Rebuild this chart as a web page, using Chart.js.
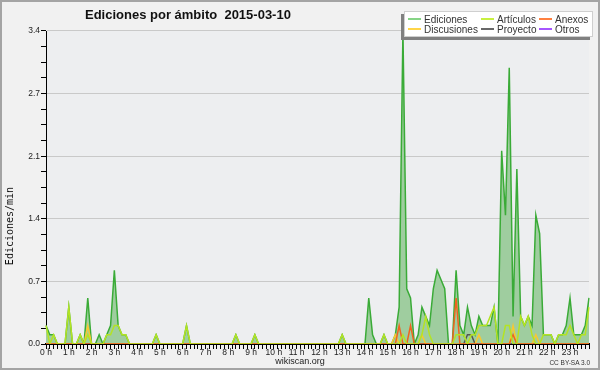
<!DOCTYPE html>
<html>
<head>
<meta charset="utf-8">
<script src="https://cdn.jsdelivr.net/npm/chart.js@4"></script>
<style>
    html, body { margin: 0; padding: 0; background: #f1f1f1; }
    #wrap { position: relative; width: 600px; height: 370px; background: #f1f1f1; overflow: hidden;
            font-family: "Liberation Sans", Arial, sans-serif; color: #111; }
    #chart { position: absolute; left: 0; top: 0; }
    .title { position: absolute; left: 85px; top: 7px; font-size: 13px; line-height: 15px; font-weight: bold; white-space: pre; }
    .ytitle { position: absolute; left: -35px; top: 220px; width: 90px; height: 12px; line-height: 12px; text-align: center;
              font-family: "DejaVu Sans Mono", monospace; font-size: 10px; transform: rotate(-90deg); }
    .legend { position: absolute; left: 404px; top: 11px; width: 189px; height: 26px; box-sizing: border-box;
              background: #fff; border: 1px solid #cfcfcf; box-shadow: -3px 3px 0 #808080; }
    .legend span { position: absolute; font-size: 10px; line-height: 10px; white-space: nowrap; color: #333; }
    .legend i { position: absolute; width: 13px; height: 2px; }
    .site { position: absolute; left: 250px; width: 100px; top: 357px; text-align: center; font-size: 9px; line-height: 9px; color: #222; }
    .lic { position: absolute; right: 10px; top: 359px; font-size: 6.5px; line-height: 7px; color: #333; }
    .frame { position: absolute; left: 0; top: 0; width: 600px; height: 370px; box-sizing: border-box; border: 2px solid #a4a4a4; pointer-events: none; }
</style>
</head>
<body>
<div id="wrap">
    <canvas id="chart" width="600" height="370"></canvas>
    <div class="title">Ediciones por ámbito  2015-03-10</div>
    <div class="ytitle">Ediciones/min</div>
    <div class="legend" id="legend"></div>
    <div class="site">wikiscan.org</div>
    <div class="lic">CC BY-SA 3.0</div>
    <div class="frame"></div>
</div>
<script>
// one value per 10 minutes, 00:00 .. 23:50 (edits per minute)
const hourLabels = ['0 h', '1 h', '2 h', '3 h', '4 h', '5 h', '6 h', '7 h', '8 h', '9 h', '10 h', '11 h',
    '12 h', '13 h', '14 h', '15 h', '16 h', '17 h', '18 h', '19 h', '20 h', '21 h', '22 h', '23 h'];
const yTickLabels = ['0.0', '0.7', '1.4', '2.1', '2.7', '3.4'];

const ediciones = [
    0.2, 0.1, 0.1, 0, 0, 0, 0.4, 0, 0, 0.1, 0, 0.5, 0, 0, 0.1, 0, 0.1, 0.2, 0.8, 0.2, 0.1, 0.1, 0, 0,
    0, 0, 0, 0, 0, 0.1, 0, 0, 0, 0, 0, 0, 0, 0.2, 0, 0, 0, 0, 0, 0, 0, 0, 0, 0,
    0, 0, 0.1, 0, 0, 0, 0, 0.1, 0, 0, 0, 0, 0, 0, 0, 0, 0, 0, 0, 0, 0, 0, 0, 0,
    0, 0, 0, 0, 0, 0, 0.1, 0, 0, 0, 0, 0, 0, 0.5, 0.1, 0, 0, 0.1, 0, 0, 0.1, 0.4, 3.4, 0.6,
    0.5, 0, 0.1, 0.4, 0.3, 0.2, 0.6, 0.8, 0.7, 0.6, 0, 0, 0.8, 0.2, 0.1, 0.4, 0.2, 0.1, 0.3, 0.2, 0.2, 0.2, 0.4, 0,
    2.1, 1.4, 3.0, 0.3, 1.9, 0.3, 0.2, 0.3, 0.2, 1.4, 1.2, 0.1, 0.1, 0.1, 0, 0.1, 0.1, 0.2, 0.5, 0.1, 0.1, 0.1, 0.2, 0.5
];
const articulos = [
    0.2, 0, 0.1, 0, 0, 0, 0.4, 0, 0, 0.1, 0, 0.1, 0, 0, 0, 0, 0.1, 0.1, 0.2, 0.2, 0.1, 0.1, 0, 0,
    0, 0, 0, 0, 0, 0.1, 0, 0, 0, 0, 0, 0, 0, 0.2, 0, 0, 0, 0, 0, 0, 0, 0, 0, 0,
    0, 0, 0.1, 0, 0, 0, 0, 0.1, 0, 0, 0, 0, 0, 0, 0, 0, 0, 0, 0, 0, 0, 0, 0, 0,
    0, 0, 0, 0, 0, 0, 0.1, 0, 0, 0, 0, 0, 0, 0, 0, 0, 0, 0.1, 0, 0, 0, 0, 0.1, 0,
    0, 0, 0, 0.1, 0.3, 0.1, 0, 0, 0, 0, 0, 0, 0.1, 0.1, 0.1, 0, 0.1, 0.1, 0.2, 0.2, 0.2, 0.3, 0.4, 0,
    0, 0.2, 0.2, 0, 0, 0.3, 0.2, 0.3, 0.1, 0, 0, 0.1, 0.1, 0.1, 0, 0.1, 0.1, 0.1, 0.2, 0.1, 0, 0.1, 0.1, 0.4
];
const anexos = [
    0, 0, 0, 0, 0, 0, 0, 0, 0, 0, 0, 0, 0, 0, 0, 0, 0, 0, 0, 0, 0, 0, 0, 0,
    0, 0, 0, 0, 0, 0, 0, 0, 0, 0, 0, 0, 0, 0, 0, 0, 0, 0, 0, 0, 0, 0, 0, 0,
    0, 0, 0, 0, 0, 0, 0, 0, 0, 0, 0, 0, 0, 0, 0, 0, 0, 0, 0, 0, 0, 0, 0, 0,
    0, 0, 0, 0, 0, 0, 0, 0, 0, 0, 0, 0, 0, 0, 0, 0, 0, 0, 0, 0, 0, 0.2, 0, 0,
    0.2, 0, 0, 0, 0, 0, 0, 0, 0, 0, 0, 0, 0.5, 0, 0, 0, 0, 0, 0, 0, 0, 0, 0, 0,
    0, 0, 0, 0.1, 0, 0, 0, 0, 0, 0, 0, 0, 0, 0, 0, 0, 0, 0, 0, 0, 0, 0, 0, 0
];
const discusiones = [
    0, 0, 0, 0, 0, 0, 0, 0, 0, 0, 0, 0.2, 0, 0, 0, 0, 0, 0, 0, 0, 0, 0, 0, 0,
    0, 0, 0, 0, 0, 0, 0, 0, 0, 0, 0, 0, 0, 0, 0, 0, 0, 0, 0, 0, 0, 0, 0, 0,
    0, 0, 0, 0, 0, 0, 0, 0, 0, 0, 0, 0, 0, 0, 0, 0, 0, 0, 0, 0, 0, 0, 0, 0,
    0, 0, 0, 0, 0, 0, 0, 0, 0, 0, 0, 0, 0, 0, 0, 0, 0, 0, 0, 0, 0.1, 0, 0, 0,
    0, 0, 0, 0.1, 0, 0, 0, 0, 0, 0, 0, 0, 0, 0, 0, 0, 0, 0, 0.1, 0, 0, 0, 0, 0,
    0, 0, 0, 0.2, 0, 0, 0, 0, 0, 0.1, 0, 0, 0, 0, 0, 0, 0, 0, 0, 0, 0, 0, 0, 0
];
const proyecto = [
    0, 0, 0, 0, 0, 0, 0, 0, 0, 0, 0, 0, 0, 0, 0, 0, 0, 0, 0, 0, 0, 0, 0, 0,
    0, 0, 0, 0, 0, 0, 0, 0, 0, 0, 0, 0, 0, 0, 0, 0, 0, 0, 0, 0, 0, 0, 0, 0,
    0, 0, 0, 0, 0, 0, 0, 0, 0, 0, 0, 0, 0, 0, 0, 0, 0, 0, 0, 0, 0, 0, 0, 0,
    0, 0, 0, 0, 0, 0, 0, 0, 0, 0, 0, 0, 0, 0, 0, 0, 0, 0, 0, 0, 0, 0, 0, 0,
    0, 0, 0, 0, 0, 0, 0, 0, 0, 0, 0, 0, 0, 0, 0, 0.1, 0.1, 0, 0, 0, 0, 0, 0, 0,
    0, 0, 0, 0, 0, 0, 0, 0, 0, 0, 0, 0, 0, 0, 0, 0, 0, 0, 0, 0, 0, 0, 0, 0
];
const otros = [
    0, 0, 0, 0, 0, 0, 0, 0, 0, 0, 0, 0, 0, 0, 0, 0, 0, 0, 0, 0, 0, 0, 0, 0,
    0, 0, 0, 0, 0, 0, 0, 0, 0, 0, 0, 0, 0, 0, 0, 0, 0, 0, 0, 0, 0, 0, 0, 0,
    0, 0, 0, 0, 0, 0, 0, 0, 0, 0, 0, 0, 0, 0, 0, 0, 0, 0, 0, 0, 0, 0, 0, 0,
    0, 0, 0, 0, 0, 0, 0, 0, 0, 0, 0, 0, 0, 0, 0, 0, 0, 0, 0, 0, 0, 0, 0, 0,
    0, 0, 0, 0, 0, 0, 0, 0, 0, 0, 0, 0, 0, 0, 0, 0, 0, 0, 0, 0, 0, 0, 0, 0,
    0, 0, 0, 0, 0, 0, 0, 0, 0, 0, 0, 0, 0, 0, 0, 0, 0, 0, 0, 0, 0, 0, 0, 0
];

const COLORS = {
    ediciones: '#3aab37', edicionesFill: '#9fcd9f', articulos: '#b4e324', anexos: '#f0641e',
    discusiones: '#f8c830', proyecto: '#555555', otros: '#9955ff',
    plotBg: '#edeef0', grid: '#c9c9c9', axis: '#000', text: '#222'
};

// 10-minute slots, labelled with the hour on the full hour
const slots = [];
hourLabels.forEach(h => { for (let m = 0; m < 6; m++) slots.push(m === 0 ? h : ''); });

const legendItems = [
    { label: 'Ediciones', color: '#86d486', col: 0, row: 0 },
    { label: 'Discusiones', color: '#ffd548', col: 0, row: 1 },
    { label: 'Artículos', color: '#c8f040', col: 1, row: 0 },
    { label: 'Proyecto', color: '#686868', col: 1, row: 1 },
    { label: 'Anexos', color: '#ff8040', col: 2, row: 0 },
    { label: 'Otros', color: '#a656ff', col: 2, row: 1 }
];
const legendCols = [3, 76, 134];
const legendEl = document.getElementById('legend');
legendItems.forEach(it => {
    const x = legendCols[it.col];
    legendEl.insertAdjacentHTML('beforeend',
        `<i style="left:${x}px;top:${6 + it.row * 10}px;background:${it.color}"></i>` +
        `<span style="left:${x + 16}px;top:${2.7 + it.row * 10}px">${it.label}</span>`);
});

const plotBackground = {
    id: 'plotBackground',
    beforeDraw(chart) {
        const { ctx, chartArea: a } = chart;
        ctx.save();
        ctx.fillStyle = COLORS.plotBg;
        ctx.fillRect(a.left, a.top, a.right - a.left, a.bottom - a.top);
        ctx.restore();
    }
};

const line = (label, data, color, extra = {}) => ({
    label, data, borderColor: color, borderWidth: 1.5, pointRadius: 0, tension: 0, fill: false, order: 1, ...extra
});

new Chart(document.getElementById('chart'), {
    type: 'line',
    data: {
        labels: slots,
        datasets: [
            line('Ediciones', ediciones, COLORS.ediciones, { fill: 'origin', backgroundColor: COLORS.edicionesFill, order: 10 }),
            line('Artículos', articulos, COLORS.articulos),
            line('Anexos', anexos, COLORS.anexos),
            line('Discusiones', discusiones, COLORS.discusiones),
            line('Proyecto', proyecto, COLORS.proyecto),
            line('Otros', otros, COLORS.otros, { order: 5 })
        ]
    },
    options: {
        responsive: false,
        animation: false,
        layout: { padding: { top: 31, right: 11, left: 0, bottom: 0 } },
        plugins: { legend: { display: false }, tooltip: { enabled: false } },
        scales: {
            x: {
                z: 1,
                offset: false,
                afterFit: s => { s.height = 26; },
                grid: { drawOnChartArea: false, drawTicks: true, tickLength: 5, tickColor: COLORS.axis, tickWidth: 1 },
                border: { display: true, color: COLORS.axis, width: 2 },
                ticks: {
                    autoSkip: false, maxRotation: 0, minRotation: 0, padding: -1,
                    color: COLORS.text, font: { family: 'Liberation Sans', size: 8.5 },
                    callback: (v, i) => slots[i]
                }
            },
            y: {
                min: 0,
                max: 3.4,
                afterFit: s => { s.width = 46; },
                afterBuildTicks: s => {
                    const t = [];
                    for (let k = 0; k <= 20; k++) t.push({ value: k * 0.17 });
                    s.ticks = t;
                },
                grid: {
                    color: c => (c.index % 4 === 0 ? COLORS.grid : 'rgba(0,0,0,0)'),
                    tickColor: COLORS.axis, tickLength: 5, drawTicks: true
                },
                border: { display: true, color: COLORS.axis, width: 1 },
                ticks: {
                    padding: 1, color: COLORS.text, font: { family: 'Liberation Sans', size: 8.5 },
                    callback: (v, i) => (i % 4 === 0 ? yTickLabels[i / 4] : '')
                }
            }
        }
    },
    plugins: [plotBackground]
});
</script>
</body>
</html>
